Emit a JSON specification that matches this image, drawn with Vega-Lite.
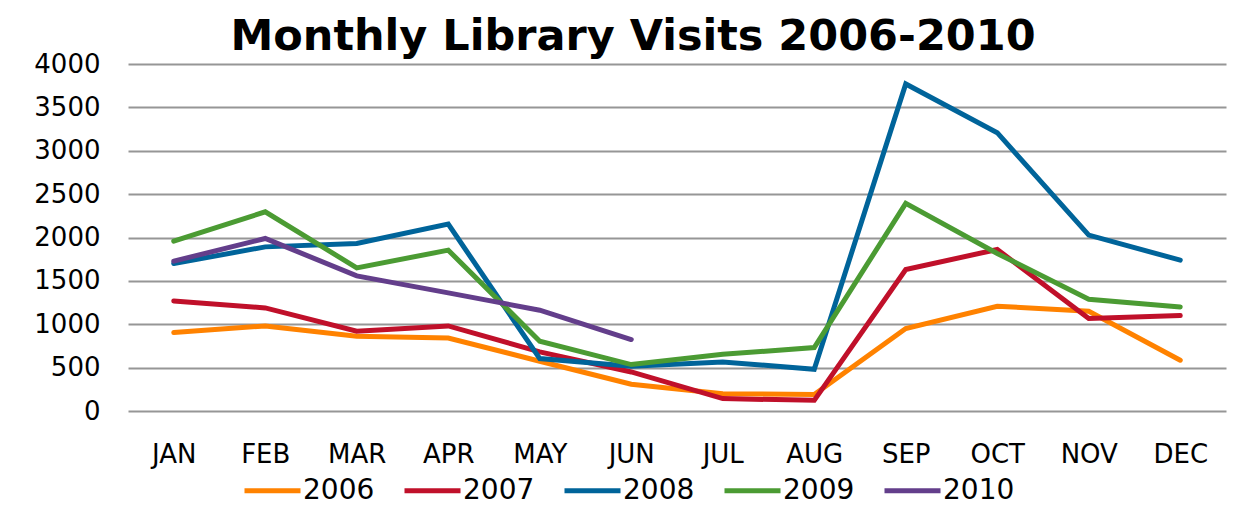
{
  "$schema": "https://vega.github.io/schema/vega-lite/v6.json",
  "width": 1098,
  "height": 347,
  "autosize": {"type": "none"},
  "padding": {"left": 128, "top": 64, "right": 27, "bottom": 115},
  "background": "white",
  "title": {
    "text": "Monthly Library Visits 2006-2010",
    "font": "DejaVu Sans",
    "fontSize": 43,
    "fontWeight": "bold",
    "color": "black",
    "anchor": "middle",
    "frame": "group",
    "dx": -44,
    "dy": 42,
    "baseline": "alphabetic",
    "offset": 0
  },
  "data": {
    "values": [
      {"month": "JAN", "year": "2006", "visits": 904},
      {"month": "FEB", "year": "2006", "visits": 981},
      {"month": "MAR", "year": "2006", "visits": 862},
      {"month": "APR", "year": "2006", "visits": 842},
      {"month": "MAY", "year": "2006", "visits": 573},
      {"month": "JUN", "year": "2006", "visits": 308},
      {"month": "JUL", "year": "2006", "visits": 200},
      {"month": "AUG", "year": "2006", "visits": 189},
      {"month": "SEP", "year": "2006", "visits": 950},
      {"month": "OCT", "year": "2006", "visits": 1208},
      {"month": "NOV", "year": "2006", "visits": 1150},
      {"month": "DEC", "year": "2006", "visits": 585},
      {"month": "JAN", "year": "2007", "visits": 1269},
      {"month": "FEB", "year": "2007", "visits": 1188},
      {"month": "MAR", "year": "2007", "visits": 920},
      {"month": "APR", "year": "2007", "visits": 981},
      {"month": "MAY", "year": "2007", "visits": 681},
      {"month": "JUN", "year": "2007", "visits": 450},
      {"month": "JUL", "year": "2007", "visits": 143},
      {"month": "AUG", "year": "2007", "visits": 123},
      {"month": "SEP", "year": "2007", "visits": 1631},
      {"month": "OCT", "year": "2007", "visits": 1862},
      {"month": "NOV", "year": "2007", "visits": 1066},
      {"month": "DEC", "year": "2007", "visits": 1100},
      {"month": "JAN", "year": "2008", "visits": 1700},
      {"month": "FEB", "year": "2008", "visits": 1892},
      {"month": "MAR", "year": "2008", "visits": 1931},
      {"month": "APR", "year": "2008", "visits": 2154},
      {"month": "MAY", "year": "2008", "visits": 604},
      {"month": "JUN", "year": "2008", "visits": 516},
      {"month": "JUL", "year": "2008", "visits": 565},
      {"month": "AUG", "year": "2008", "visits": 481},
      {"month": "SEP", "year": "2008", "visits": 3770},
      {"month": "OCT", "year": "2008", "visits": 3208},
      {"month": "NOV", "year": "2008", "visits": 2027},
      {"month": "DEC", "year": "2008", "visits": 1739},
      {"month": "JAN", "year": "2009", "visits": 1958},
      {"month": "FEB", "year": "2009", "visits": 2296},
      {"month": "MAR", "year": "2009", "visits": 1650},
      {"month": "APR", "year": "2009", "visits": 1854},
      {"month": "MAY", "year": "2009", "visits": 804},
      {"month": "JUN", "year": "2009", "visits": 535},
      {"month": "JUL", "year": "2009", "visits": 654},
      {"month": "AUG", "year": "2009", "visits": 731},
      {"month": "SEP", "year": "2009", "visits": 2393},
      {"month": "OCT", "year": "2009", "visits": 1816},
      {"month": "NOV", "year": "2009", "visits": 1289},
      {"month": "DEC", "year": "2009", "visits": 1200},
      {"month": "JAN", "year": "2010", "visits": 1727},
      {"month": "FEB", "year": "2010", "visits": 1989},
      {"month": "MAR", "year": "2010", "visits": 1558},
      {"month": "APR", "year": "2010", "visits": 1362},
      {"month": "MAY", "year": "2010", "visits": 1162},
      {"month": "JUN", "year": "2010", "visits": 824}
    ]
  },
  "mark": {"type": "line", "strokeWidth": 5, "strokeCap": "round"},
  "encoding": {
    "x": {
      "field": "month",
      "type": "nominal",
      "sort": ["JAN", "FEB", "MAR", "APR", "MAY", "JUN", "JUL", "AUG", "SEP", "OCT", "NOV", "DEC"],
      "scale": {"type": "point", "padding": 0.5},
      "axis": {
        "title": null,
        "labelAngle": 0,
        "labelFont": "DejaVu Sans",
        "labelFontSize": 26,
        "labelColor": "black",
        "labelBaseline": "alphabetic",
        "labelPadding": 51,
        "ticks": false,
        "tickSize": 0,
        "domain": false,
        "grid": false
      }
    },
    "y": {
      "field": "visits",
      "type": "quantitative",
      "scale": {"domain": [0, 4000], "nice": false},
      "axis": {
        "title": null,
        "values": [0, 500, 1000, 1500, 2000, 2500, 3000, 3500, 4000],
        "format": "d",
        "labelFont": "DejaVu Sans",
        "labelFontSize": 26,
        "labelColor": "black",
        "labelPadding": 28,
        "ticks": false,
        "tickSize": 0,
        "domain": false,
        "grid": true,
        "gridColor": "#969696",
        "gridWidth": 2
      }
    },
    "color": {
      "field": "year",
      "type": "nominal",
      "scale": {
        "domain": ["2006", "2007", "2008", "2009", "2010"],
        "range": ["#FF8200", "#C0102A", "#00649A", "#4B9B33", "#633E8B"]
      },
      "legend": {
        "orient": "none",
        "legendX": 114,
        "legendY": 396,
        "direction": "horizontal",
        "title": null,
        "symbolType": "stroke",
        "symbolSize": 3136,
        "symbolStrokeWidth": 5,
        "labelFont": "DejaVu Sans",
        "labelFontSize": 28,
        "labelColor": "black",
        "labelOffset": 0,
        "columnPadding": 19
      }
    }
  },
  "config": {"view": {"stroke": null}}
}
